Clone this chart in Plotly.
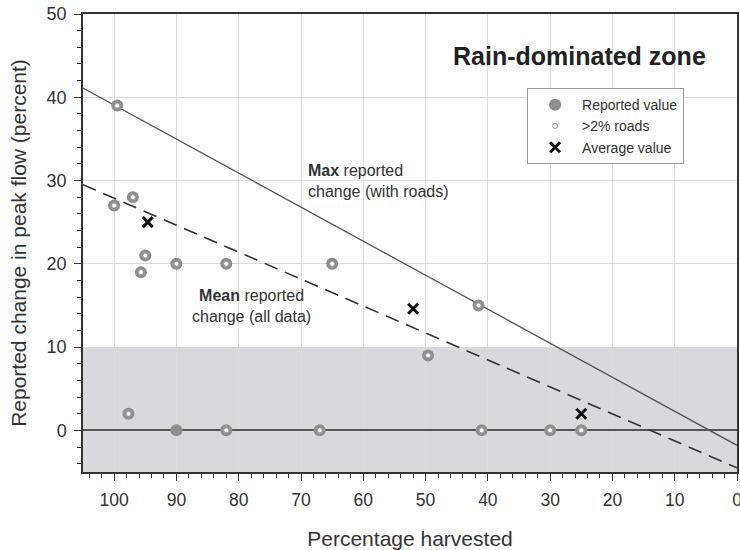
import plotly.graph_objects as go

# Reported values (percentage harvested, change in peak flow)
reported_x = [99.5, 100, 97, 95, 95.7, 90, 82, 65, 97.7, 90, 82, 67, 41.5, 49.6, 41, 30, 25]
reported_y = [39, 27, 28, 21, 19, 20, 20, 20, 2, 0, 0, 0, 15, 9, 0, 0, 0]
# Points from catchments with >2% roads
roads_x = [99.5, 100, 97, 95, 95.7, 90, 82, 65, 97.7, 82, 67, 41.5, 49.6, 41, 30, 25]
roads_y = [39, 27, 28, 21, 19, 20, 20, 20, 2, 0, 0, 15, 9, 0, 0, 0]
# Average values
avg_x = [94.6, 52, 25]
avg_y = [25, 14.6, 2]
# Envelope lines
max_line_x = [105, 0]
max_line_y = [41.1, -1.8]
mean_line_x = [105, 0]
mean_line_y = [29.5, -4.5]

FONT = "Liberation Sans, Arial, sans-serif"
GRAY_MARK = "#8e8e8e"

fig = go.Figure()

fig.add_trace(go.Scatter(x=max_line_x, y=max_line_y, mode="lines",
                         line=dict(color="#555555", width=1.3), showlegend=False, hoverinfo="skip"))
fig.add_trace(go.Scatter(x=mean_line_x, y=mean_line_y, mode="lines",
                         line=dict(color="#333333", width=1.6, dash="14px,8px"), showlegend=False, hoverinfo="skip"))

fig.add_trace(go.Scatter(x=reported_x, y=reported_y, mode="markers", name="Reported value",
                         marker=dict(symbol="circle", size=12, color=GRAY_MARK, line=dict(width=0))))
fig.add_trace(go.Scatter(x=roads_x, y=roads_y, mode="markers", name=">2% roads",
                         marker=dict(symbol="circle", size=5, color="white", line=dict(width=1, color="#a0a0a0"))))
fig.add_trace(go.Scatter(x=avg_x, y=avg_y, mode="markers", name="Average value",
                         marker=dict(symbol="x-thin", size=10, color="#111111", line=dict(width=3, color="#111111"))))

# Shaded band (0 to 10 % change and below)
fig.add_shape(type="rect", xref="paper", yref="y", x0=0, x1=1, y0=-5, y1=10,
              fillcolor="#d7d9dc", line=dict(width=0), layer="below")

fig.add_annotation(x=25.3, y=44.9, text="<b>Rain-dominated zone</b>", showarrow=False,
                   font=dict(size=25, color="#222222", family=FONT), xanchor="center", yanchor="middle")
fig.add_annotation(x=69.2, y=29.9, text="<b>Max</b> reported<br>change (with roads)", showarrow=False,
                   font=dict(size=16, color="#333333", family=FONT), xanchor="left", yanchor="middle", align="left")
fig.add_annotation(x=78.0, y=14.9, text="<b>Mean</b> reported<br>change (all data)", showarrow=False,
                   font=dict(size=16, color="#333333", family=FONT), xanchor="center", yanchor="middle", align="center")

axis_common = dict(
    showline=True, linecolor="#333333", linewidth=1.5, mirror=True,
    ticks="outside", ticklen=7, tickwidth=1.2, tickcolor="#333333",
    showgrid=True, gridcolor="#dcdcdc", gridwidth=1,
    minor=dict(dtick=2, ticks="outside", ticklen=4, tickcolor="#333333", showgrid=False),
    automargin=False,
    ticklabeloverflow="allow",
)

fig.update_xaxes(range=[105, 0], dtick=10, tick0=0, zeroline=False,
                 tickfont=dict(size=17.5, color="#333333", family=FONT), ticklabelstandoff=4,
                 title=dict(text="Percentage harvested", font=dict(size=21, color="#333333", family=FONT), standoff=24),
                 **axis_common)
fig.update_yaxes(range=[-5, 50], dtick=10, tick0=0, zeroline=True, zerolinecolor="#555555", zerolinewidth=1.6,
                 tickfont=dict(size=18, color="#333333", family=FONT), ticklabelstandoff=4,
                 title=dict(text="Reported change in peak flow (percent)", font=dict(size=21, color="#333333", family=FONT), standoff=14),
                 **axis_common)

fig.update_layout(
    template="none",
    width=740, height=550,
    margin=dict(l=83, r=3, t=14, b=78, autoexpand=False),
    paper_bgcolor="white", plot_bgcolor="white",
    font=dict(family=FONT, color="#333333"),
    legend=dict(x=0.679, y=0.838, xanchor="left", yanchor="top",
                bgcolor="white", bordercolor="#999999", borderwidth=1,
                font=dict(size=14, color="#333333", family=FONT),
                itemwidth=44, tracegroupgap=0),
)

fig.write_html(
    "out.html",
    config={"displayModeBar": False},
    post_script="document.body.style.margin='0px';document.body.style.padding='0px';document.body.style.overflow='hidden';",
)
